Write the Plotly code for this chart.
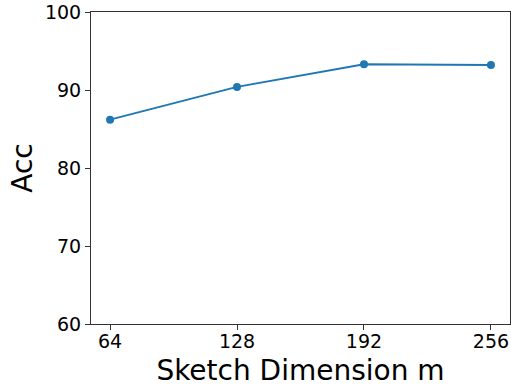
import plotly.graph_objects as go

sketch_dims = [64, 128, 192, 256]
acc_values = [86.2, 90.4, 93.3, 93.2]
x_tick_labels = ["64", "128", "192", "256"]
y_tick_values = [60, 70, 80, 90, 100]

fig = go.Figure()
fig.add_trace(go.Scatter(
    x=sketch_dims, y=acc_values,
    mode="lines+markers",
    line=dict(color="#1f77b4", width=2),
    marker=dict(color="#1f77b4", size=8),
    showlegend=False,
))

font_family = "DejaVu Sans"
fig.update_layout(
    width=511, height=387,
    margin=dict(l=91, r=1, t=12, b=63, autoexpand=False),
    paper_bgcolor="white", plot_bgcolor="white",
    font=dict(family=font_family, color="black"),
)
fig.update_xaxes(
    range=[54.4, 265.6],
    tickvals=sketch_dims, ticktext=x_tick_labels,
    tickfont=dict(size=19, family=font_family),
    ticks="outside", ticklen=5, tickwidth=1, tickcolor="#333",
    ticklabelstandoff=-5,
    showline=True, linecolor="#333", linewidth=1, mirror=True,
    showgrid=False, zeroline=False, automargin=False,
    title=dict(text="Sketch Dimension m", font=dict(size=28, family=font_family), standoff=9),
)
fig.update_yaxes(
    range=[60, 100],
    tickvals=y_tick_values,
    tickfont=dict(size=19, family=font_family),
    ticks="outside", ticklen=5, tickwidth=1, tickcolor="#333",
    showline=True, linecolor="#333", linewidth=1, mirror=True,
    showgrid=False, zeroline=False, automargin=False,
    title=dict(text="Acc", font=dict(size=28, family=font_family), standoff=4),
)

fig.write_html("out.html", config={"displayModeBar": False},
               post_script="document.body.style.margin='0';document.body.style.overflow='hidden';")
